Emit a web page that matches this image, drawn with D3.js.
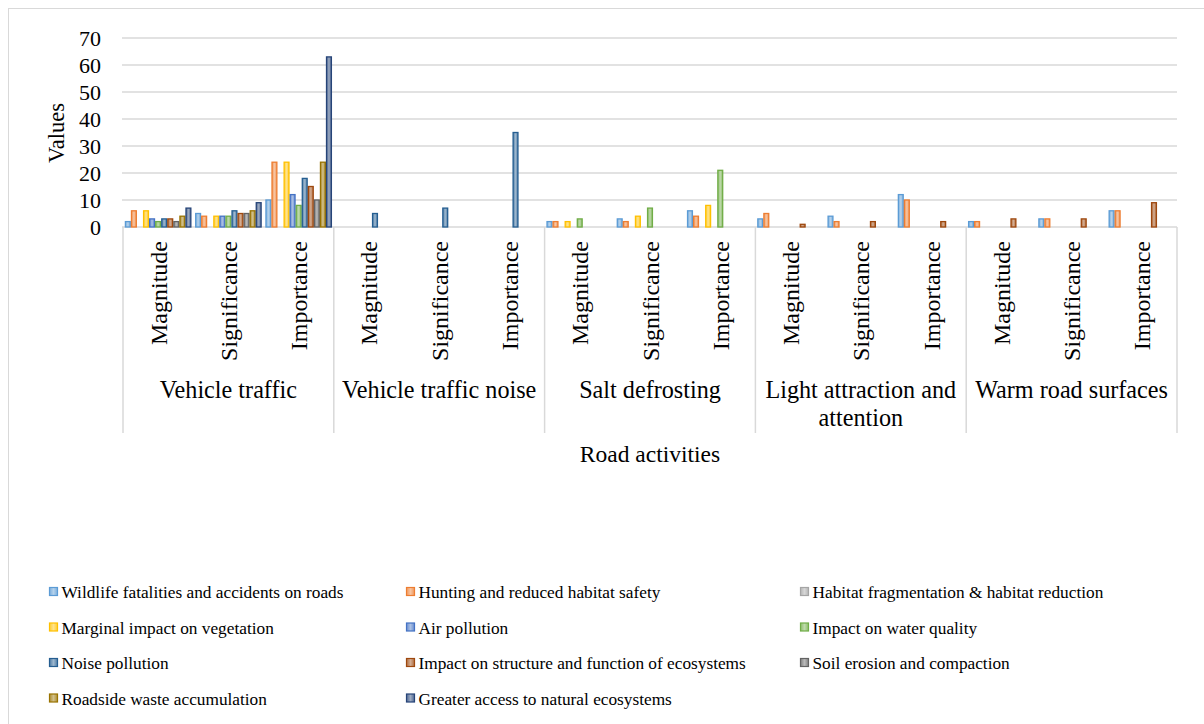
<!DOCTYPE html>
<html>
<head>
<meta charset="utf-8">
<script src="https://cdn.jsdelivr.net/npm/d3@7"></script>
<style>
  body { margin: 0; background: #fff; }
</style>
</head>
<body>
<svg id="svg" width="1204" height="724" font-family="'Liberation Serif', 'Times New Roman', Times, 'DejaVu Serif', serif"></svg>
<script>
const groups = ['Vehicle traffic', 'Vehicle traffic noise', 'Salt defrosting', 'Light attraction and attention', 'Warm road surfaces']
const measures = ['Magnitude', 'Significance', 'Importance']
const seriesNames = [
  'Wildlife fatalities and accidents on roads',
  'Hunting and reduced habitat safety',
  'Habitat fragmentation & habitat reduction',
  'Marginal impact on vegetation',
  'Air pollution',
  'Impact on water quality',
  'Noise pollution',
  'Impact on structure and function of ecosystems',
  'Soil erosion and compaction',
  'Roadside waste accumulation',
  'Greater access to natural ecosystems'
]
const colours = ['#5B9BD5', '#ED7D31', '#A5A5A5', '#FFC000', '#4472C4', '#70AD47',
  '#255E91', '#9E480E', '#636363', '#997300', '#264478']

// values per series, order: group by group, Magnitude / Significance / Importance
const wildlife   = [2, 5, 10,  0, 0, 0,   2, 3, 6,   3, 4, 12,  2, 3, 6]
const hunting    = [6, 4, 24,  0, 0, 0,   2, 2, 4,   5, 2, 10,  2, 3, 6]
const habitat    = [0, 0, 0,   0, 0, 0,   0, 0, 0,   0, 0, 0,   0, 0, 0]
const marginal   = [6, 4, 24,  0, 0, 0,   2, 4, 8,   0, 0, 0,   0, 0, 0]
const air        = [3, 4, 12,  0, 0, 0,   0, 0, 0,   0, 0, 0,   0, 0, 0]
const water      = [2, 4, 8,   0, 0, 0,   3, 7, 21,  0, 0, 0,   0, 0, 0]
const noise      = [3, 6, 18,  5, 7, 35,  0, 0, 0,   0, 0, 0,   0, 0, 0]
const structure  = [3, 5, 15,  0, 0, 0,   0, 0, 0,   1, 2, 2,   3, 3, 9]
const soil       = [2, 5, 10,  0, 0, 0,   0, 0, 0,   0, 0, 0,   0, 0, 0]
const roadside   = [4, 6, 24,  0, 0, 0,   0, 0, 0,   0, 0, 0,   0, 0, 0]
const access     = [7, 9, 63,  0, 0, 0,   0, 0, 0,   0, 0, 0,   0, 0, 0]
const seriesValues = [wildlife, hunting, habitat, marginal, air, water, noise, structure, soil, roadside, access]

const yTicks = [0, 10, 20, 30, 40, 50, 60, 70]

const svg = d3.select('#svg')
const grid = '#d9d9d9'

// chart border (only left / top visible)
svg.append('rect')
  .attr('x', 8.5).attr('y', 8.5).attr('width', 1400).attr('height', 900)
  .attr('fill', 'none').attr('stroke', grid).attr('stroke-width', 1)

const plotLeft = 123
const plotRight = 1177
const yScale = d3.scaleLinear().domain([0, 70]).range([227, 38])

const x0 = d3.scaleBand().domain(groups).range([plotLeft, plotRight])
const x1 = d3.scaleBand().domain(measures).range([0, x0.bandwidth()])
const x2 = d3.scaleBand().domain(seriesNames).range([0, x1.bandwidth()]).paddingInner(0).paddingOuter(0.3)

// gradients
const defs = svg.append('defs')
colours.forEach((c, i) => {
  const light = d3.interpolateRgb(c, '#ffffff')
  const g = defs.append('linearGradient').attr('id', 'g' + i)
    .attr('x1', '0%').attr('x2', '100%').attr('y1', '0%').attr('y2', '0%')
  g.append('stop').attr('offset', '0%').attr('stop-color', light(0.2))
  g.append('stop').attr('offset', '50%').attr('stop-color', light(0.55))
  g.append('stop').attr('offset', '100%').attr('stop-color', light(0.2))
})

// gridlines
svg.append('g').selectAll('line')
  .data(yTicks)
  .enter()
  .append('line')
  .attr('x1', plotLeft - 1).attr('x2', plotRight)
  .attr('y1', d => yScale(d)).attr('y2', d => yScale(d))
  .attr('stroke', grid).attr('stroke-width', 1.5)

// y tick labels
svg.append('g').selectAll('text')
  .data(yTicks)
  .enter()
  .append('text')
  .attr('x', 101)
  .attr('y', d => yScale(d) + 7.5)
  .attr('text-anchor', 'end')
  .attr('font-size', 22)
  .text(d => d)

svg.append('text')
  .attr('transform', 'translate(64,133) rotate(-90)')
  .attr('text-anchor', 'middle')
  .attr('font-size', 22.5)
  .text('Values')

// bars
const barData = []
seriesValues.forEach((vals, si) => {
  vals.forEach((v, k) => {
    if (v > 0) barData.push({ s: si, g: groups[Math.floor(k / 3)], m: measures[k % 3], v: v })
  })
})

svg.append('g').selectAll('rect')
  .data(barData)
  .enter()
  .append('rect')
  .attr('x', d => x0(d.g) + x1(d.m) + x2(seriesNames[d.s]) + 0.6)
  .attr('width', x2.bandwidth() - 1.2)
  .attr('y', d => yScale(d.v))
  .attr('height', d => yScale(0) - yScale(d.v))
  .attr('fill', d => 'url(#g' + d.s + ')')
  .attr('stroke', d => colours[d.s])
  .attr('stroke-width', 1.3)

// group dividers
svg.append('g').selectAll('line')
  .data(groups.map(g => x0(g)).concat([plotRight]))
  .enter()
  .append('line')
  .attr('x1', d => d).attr('x2', d => d)
  .attr('y1', 227).attr('y2', 433)
  .attr('stroke', grid).attr('stroke-width', 1.5)

// measure labels
const subLabels = []
groups.forEach(g => measures.forEach(m => subLabels.push({ g, m })))
svg.append('g').selectAll('text')
  .data(subLabels)
  .enter()
  .append('text')
  .attr('transform', d => `translate(${x0(d.g) + x1(d.m) + x1.bandwidth() / 2 + 8.5},241) rotate(-90)`)
  .attr('text-anchor', 'end')
  .attr('font-size', 24)
  .text(d => d.m)

// group labels
const groupLines = {
  'Light attraction and attention': ['Light attraction and', 'attention']
}
groups.forEach(g => {
  const lines = groupLines[g] || [g]
  const t = svg.append('text')
    .attr('text-anchor', 'middle')
    .attr('font-size', 24.2)
  lines.forEach((l, i) => {
    t.append('tspan')
      .attr('x', x0(g) + x0.bandwidth() / 2)
      .attr('y', 398 + i * 28)
      .text(l)
  })
})

svg.append('text')
  .attr('x', 650).attr('y', 462)
  .attr('text-anchor', 'middle')
  .attr('font-size', 23.5)
  .text('Road activities')

// legend
const legendCols = [49.5, 406.5, 800.5]
const legendRows = [592, 627.5, 663, 698.5]
const legend = svg.append('g').selectAll('g')
  .data(seriesNames)
  .enter()
  .append('g')
  .attr('transform', (d, i) => `translate(${legendCols[i % 3]},${legendRows[Math.floor(i / 3)]})`)

legend.append('rect')
  .attr('x', 0).attr('y', -4.5).attr('width', 8).attr('height', 8)
  .attr('fill', (d, i) => 'url(#g' + i + ')')
  .attr('stroke', (d, i) => colours[i])
  .attr('stroke-width', 1.2)

legend.append('text')
  .attr('x', 12)
  .attr('y', 6)
  .attr('font-size', 17.3)
  .text(d => d)
</script>
</body>
</html>
